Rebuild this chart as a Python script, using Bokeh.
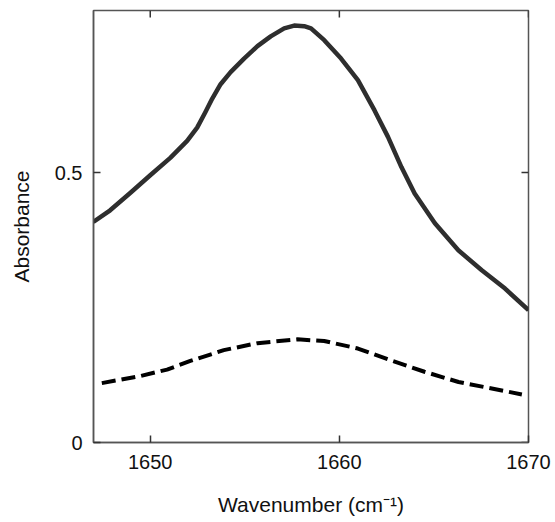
import math
from bokeh.plotting import figure
from bokeh.models import FixedTicker, Range1d
from bokeh.embed import file_html
from bokeh.resources import INLINE

# Solid spectrum
wn_solid = [1646.99, 1647.88, 1648.94, 1650.0, 1651.06, 1651.95, 1652.48, 1652.92,
            1653.28, 1653.72, 1654.25, 1654.96, 1655.67, 1656.37, 1657.08, 1657.61,
            1658.14, 1658.5, 1659.2, 1660.09, 1660.98, 1661.86, 1662.57, 1663.28,
            1663.98, 1665.05, 1666.29, 1667.53, 1668.76, 1670.0]
abs_solid = [0.4085, 0.430, 0.462, 0.495, 0.527, 0.5585, 0.583, 0.612,
             0.637, 0.6635, 0.686, 0.711, 0.734, 0.752, 0.767, 0.772,
             0.771, 0.767, 0.745, 0.711, 0.671, 0.615, 0.566, 0.510,
             0.461, 0.406, 0.356, 0.319, 0.285, 0.245]

# Dashed spectrum
wn_dash = [1647.44, 1649.47, 1650.89, 1652.12, 1653.89, 1655.67, 1657.79, 1659.2,
           1660.98, 1662.75, 1664.5, 1666.3, 1668.06, 1669.65]
abs_dash = [0.110, 0.123, 0.135, 0.151, 0.171, 0.184, 0.191, 0.188,
            0.174, 0.152, 0.131, 0.112, 0.100, 0.089]

x_ticks = [1650, 1660, 1670]
y_ticks = [0, 0.5]
x_lo, x_hi = 1647, 1670
y_lo, y_hi = 0, 0.8

FONT = "Liberation Sans"
AX = "#555555"

p = figure(width=555, height=522, output_backend="svg", toolbar_location=None,
           x_range=Range1d(x_lo, x_hi), y_range=Range1d(y_lo, y_hi),
           min_border_left=93, min_border_right=27, min_border_top=10, min_border_bottom=80,
           background_fill_color="white", border_fill_color="white")
p.grid.visible = False
p.outline_line_color = AX
p.outline_line_width = 1.5

p.line(wn_solid, abs_solid, line_color="#2e2e2e", line_width=4.5, line_join="round")
p.line(wn_dash, abs_dash, line_color="#000000", line_width=4, line_dash="14 6")

# mirrored inward ticks on top and right edges
p.ray(x=x_ticks, y=[y_hi] * len(x_ticks), length=7, length_units="screen",
      angle=-math.pi / 2, line_color="#333333", line_width=1.5)
p.ray(x=[x_hi] * len(y_ticks), y=y_ticks, length=7, length_units="screen",
      angle=math.pi, line_color="#333333", line_width=1.5)

def style(ax):
    ax.axis_line_color = AX
    ax.axis_line_width = 1.5
    ax.major_tick_line_color = "#333333"
    ax.major_tick_line_width = 1.5
    ax.major_tick_in = 7
    ax.major_tick_out = 0
    ax.minor_tick_line_color = None
    ax.major_label_text_font = FONT
    ax.major_label_text_font_size = "20px"
    ax.major_label_text_color = "#111111"
    ax.axis_label_text_font = FONT
    ax.axis_label_text_font_size = "21px"
    ax.axis_label_text_font_style = "normal"
    ax.axis_label_text_color = "#111111"

xa = p.xaxis[0]
xa.ticker = FixedTicker(ticks=x_ticks)
xa.axis_label = "Wavenumber (cm\u207b\u00b9)"
style(xa)
xa.major_label_standoff = 12
xa.axis_label_standoff = 21

ya = p.yaxis[0]
ya.ticker = FixedTicker(ticks=y_ticks)
ya.axis_label = "Absorbance"
style(ya)
ya.major_label_standoff = 11
ya.axis_label_standoff = 19

open("out.html", "w").write(file_html(p, INLINE))
